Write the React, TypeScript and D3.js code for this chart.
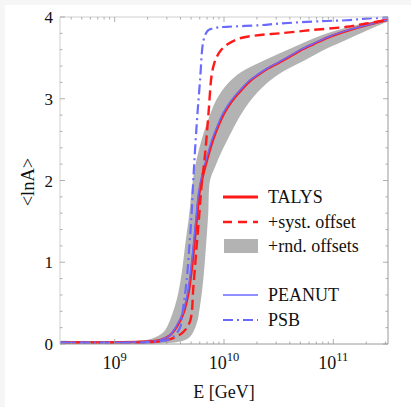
import React from "react";
import * as d3 from "d3";

// ---- data (log10 E [GeV], <lnA>) ----
const talysLogE = [8.5, 9.0, 9.3, 9.42, 9.5, 9.567, 9.628, 9.674, 9.7, 9.726, 9.75, 9.774, 9.8, 9.83, 9.857, 9.9, 9.948, 10.0, 10.05, 10.1, 10.16, 10.24, 10.31, 10.4, 10.5, 10.62, 10.71, 10.82, 10.95, 11.12, 11.3, 11.5];
const talysLnA = [0.02, 0.02, 0.03, 0.05, 0.1, 0.21, 0.375, 0.62, 0.865, 1.19, 1.52, 1.84, 2.02, 2.18, 2.31, 2.5, 2.67, 2.82, 2.93, 3.02, 3.11, 3.22, 3.29, 3.37, 3.44, 3.53, 3.6, 3.67, 3.75, 3.83, 3.9, 3.965];

const peanutLogE = [8.5, 9.0, 9.3, 9.42, 9.5, 9.56, 9.62, 9.666, 9.692, 9.718, 9.742, 9.766, 9.79, 9.82, 9.848, 9.89, 9.94, 9.99, 10.04, 10.09, 10.15, 10.23, 10.3, 10.39, 10.49, 10.61, 10.7, 10.81, 10.94, 11.11, 11.3, 11.5];
const peanutLnA = [0.02, 0.02, 0.03, 0.05, 0.1, 0.21, 0.375, 0.62, 0.865, 1.19, 1.52, 1.84, 2.02, 2.18, 2.31, 2.5, 2.67, 2.82, 2.93, 3.02, 3.11, 3.22, 3.29, 3.37, 3.44, 3.53, 3.6, 3.67, 3.75, 3.83, 3.9, 3.965];

const systLogE = [8.5, 9.3, 9.45, 9.55, 9.63, 9.69, 9.72, 9.75, 9.775, 9.795, 9.826, 9.857, 9.887, 9.91, 9.933, 9.97, 10.025, 10.146, 10.33, 10.51, 10.8, 11.12, 11.3, 11.5];
const systLnA = [0.02, 0.02, 0.04, 0.08, 0.15, 0.28, 0.7, 1.2, 1.6, 1.94, 2.31, 2.8, 3.29, 3.43, 3.51, 3.59, 3.66, 3.74, 3.78, 3.8, 3.84, 3.88, 3.92, 3.965];

const psbLogE = [8.5, 9.3, 9.45, 9.506, 9.56, 9.6, 9.628, 9.659, 9.683, 9.704, 9.72, 9.75, 9.78, 9.81, 9.835, 9.857, 9.93, 10.025, 10.33, 10.51, 10.9, 11.12, 11.3, 11.5];
const psbLnA = [0.02, 0.02, 0.04, 0.06, 0.12, 0.21, 0.46, 0.78, 1.19, 1.6, 2.03, 2.68, 3.21, 3.7, 3.8, 3.84, 3.87, 3.88, 3.9, 3.92, 3.95, 3.96, 3.98, 3.995];

const bandUpperLogE = [8.5, 9.2, 9.35, 9.45, 9.506, 9.567, 9.613, 9.643, 9.683, 9.71, 9.74, 9.8, 9.86, 9.92, 10.0, 10.1, 10.2, 10.35, 10.5, 10.65, 10.9, 11.2, 11.5];
const bandUpperLnA = [0.04, 0.04, 0.07, 0.15, 0.29, 0.54, 0.865, 1.19, 1.6, 1.95, 2.2, 2.52, 2.76, 2.96, 3.13, 3.27, 3.36, 3.46, 3.55, 3.64, 3.78, 3.9, 3.98];
const bandLowerLogE = [8.5, 9.2, 9.45, 9.6, 9.69, 9.75, 9.78, 9.81, 9.835, 9.856, 9.872, 9.92, 9.96, 10.04, 10.19, 10.345, 10.5, 10.74, 10.95, 11.1, 11.2, 11.35, 11.5];
const bandLowerLnA = [0.0, 0.0, 0.01, 0.03, 0.09, 0.25, 0.46, 0.78, 1.19, 1.6, 2.0, 2.17, 2.3, 2.52, 2.88, 3.13, 3.3, 3.47, 3.62, 3.71, 3.77, 3.86, 3.945];

const yTickLabels = [0, 1, 2, 3, 4];
const xTickExponents = [9, 10, 11];
const legendLabels = ["TALYS", "+syst. offset", "+rnd. offsets", "PEANUT", "PSB"];

// ---- layout ----
const W = 411, H = 407;
const L = 60, R = 388, T = 17, B = 344;
const RED = "#ff1a1a";
const BLUE = "#6a6aff";
const GRAY = "#b3b3b3";

export default function App() {
  const x = d3.scaleLinear().domain([8.5, 11.5]).range([L, R]);
  const y = d3.scaleLinear().domain([0, 4]).range([B, T]);

  const zip = (xs: number[], ys: number[]) => xs.map((v, i) => [v, ys[i]] as [number, number]);
  const line = d3
    .line<[number, number]>()
    .x((d) => x(d[0]))
    .y((d) => y(d[1]))
    .curve(d3.curveCatmullRom.alpha(0.5));

  const bandIdx = d3.range(bandUpperLogE.length);
  const area = d3
    .area<number>()
    .x0((i) => x(bandLowerLogE[i]))
    .y0((i) => y(bandLowerLnA[i]))
    .x1((i) => x(bandUpperLogE[i]))
    .y1((i) => y(bandUpperLnA[i]))
    .curve(d3.curveCatmullRom.alpha(0.5));

  // ticks
  const minorX: number[] = [];
  for (let dec = 8; dec <= 11; dec++) {
    for (let k = 1; k <= 9; k++) {
      const v = dec + Math.log10(k);
      if (v > 8.5 && v < 11.5) minorX.push(v);
    }
  }
  const yTicks = d3.range(0, 4.0001, 0.2);

  const frameLight = "#cfcfcf";
  const frameDark = "#9a9a9a";

  const legendY = [197, 222, 246, 295, 320];
  const lx0 = 223, lx1 = 258, tx = 268;
  const font = "'Liberation Serif', serif";

  return (
    <svg width={W} height={H} style={{ position: "absolute", left: 0, top: 0 }}>
      <rect x={0} y={0} width={W} height={H} fill="#f6f6f6" />
      <rect x={5} y={5} width={W - 5} height={H - 5} fill="#ffffff" />
      <defs>
        <clipPath id="plotclip">
          <rect x={L} y={T - 2} width={R - L} height={B - T + 4} />
        </clipPath>
      </defs>

      <g clipPath="url(#plotclip)">
        <path d={area(bandIdx) || ""} fill={GRAY} stroke="none" />
        <path d={line(zip(talysLogE, talysLnA)) || ""} fill="none" stroke={RED} strokeWidth={2.6} />
        <path d={line(zip(peanutLogE, peanutLnA)) || ""} fill="none" stroke={BLUE} strokeWidth={1.5} />
        <path d={line(zip(systLogE, systLnA)) || ""} fill="none" stroke={RED} strokeWidth={2.4} strokeDasharray="10,5" />
        <path d={line(zip(psbLogE, psbLnA)) || ""} fill="none" stroke={BLUE} strokeWidth={2.2} strokeDasharray="10,4,2,4" />
      </g>

      {/* frame */}
      <line x1={L} y1={T} x2={R} y2={T} stroke={frameLight} strokeWidth={1} />
      <line x1={L} y1={T} x2={L} y2={B} stroke={frameLight} strokeWidth={1} />
      <line x1={R} y1={T} x2={R} y2={B} stroke={frameDark} strokeWidth={1} />
      <line x1={L} y1={B} x2={R} y2={B} stroke={frameDark} strokeWidth={1} />

      {/* x ticks */}
      {minorX.map((v, i) => {
        const major = Math.abs(v - Math.round(v)) < 1e-9;
        const len = major ? 5 : 2.5;
        return (
          <g key={"xt" + i}>
            <line x1={x(v)} x2={x(v)} y1={B} y2={B - len} stroke={frameDark} strokeWidth={0.8} />
            <line x1={x(v)} x2={x(v)} y1={T} y2={T + len} stroke={frameDark} strokeWidth={0.8} />
          </g>
        );
      })}
      {/* y ticks */}
      {yTicks.map((v, i) => {
        const major = Math.abs(v - Math.round(v)) < 1e-6;
        const len = major ? 5 : 2.5;
        return (
          <g key={"yt" + i}>
            <line x1={L} x2={L + len} y1={y(v)} y2={y(v)} stroke={frameDark} strokeWidth={0.8} />
            <line x1={R} x2={R - len} y1={y(v)} y2={y(v)} stroke={frameDark} strokeWidth={0.8} />
          </g>
        );
      })}

      {/* y tick labels */}
      {yTickLabels.map((v) => (
        <text key={"yl" + v} x={53} y={y(v) + 6} textAnchor="end" fontFamily={font} fontSize={17} fill="#111">
          {v}
        </text>
      ))}
      {/* x tick labels */}
      {xTickExponents.map((e) => (
        <text key={"xl" + e} x={x(e)} y={369} textAnchor="middle" fontFamily={font} fontSize={18} fill="#111">
          10
          <tspan dy={-8} fontSize={12.5}>
            {e}
          </tspan>
        </text>
      ))}

      {/* axis labels */}
      <text x={224} y={398} textAnchor="middle" fontFamily={font} fontSize={18} fill="#111">
        E [GeV]
      </text>
      <text
        transform={`translate(34,${182}) rotate(-90)`}
        textAnchor="middle"
        fontFamily={font}
        fontSize={18.5}
        fill="#111"
      >
        {"<lnA>"}
      </text>

      {/* legend */}
      <line x1={lx0} x2={lx1} y1={legendY[0]} y2={legendY[0]} stroke={RED} strokeWidth={3} />
      <line x1={lx0} x2={lx1} y1={legendY[1]} y2={legendY[1]} stroke={RED} strokeWidth={2.5} strokeDasharray="9,6" />
      <rect x={lx0 + 1} y={legendY[2] - 7} width={lx1 - lx0 - 1} height={14} fill={GRAY} />
      <line x1={lx0} x2={lx1} y1={legendY[3]} y2={legendY[3]} stroke={BLUE} strokeWidth={1.6} />
      <line x1={lx0} x2={lx1} y1={legendY[4]} y2={legendY[4]} stroke={BLUE} strokeWidth={2.2} strokeDasharray="10,4,2,4" />
      {legendLabels.map((s, i) => (
        <text key={"lg" + i} x={tx} y={legendY[i] + 6} fontFamily={font} fontSize={18} fill="#111">
          {s}
        </text>
      ))}
    </svg>
  );
}
